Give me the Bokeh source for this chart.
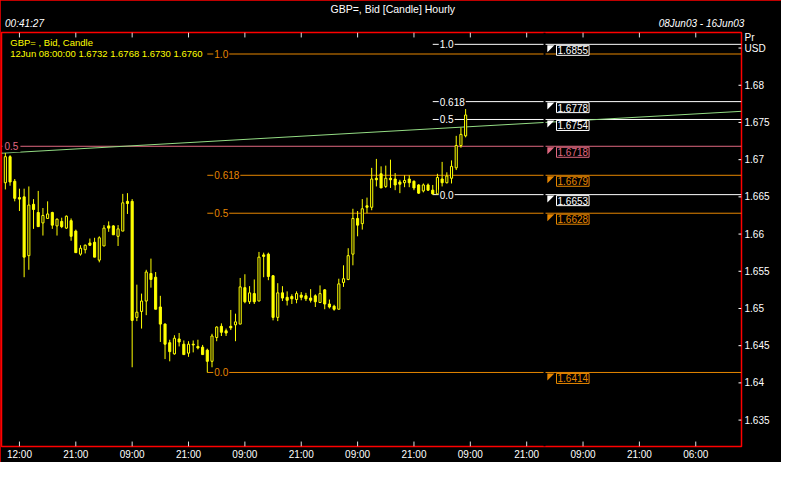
import numpy as np
from bokeh.plotting import figure
from bokeh.models import ColumnDataSource, FixedTicker, LinearAxis, Label, Range1d
from bokeh.embed import file_html
from bokeh.resources import INLINE

# ---------------- data (hourly GBP= bid candles, bar index 0..98) ----------------
opens = [1.6669, 1.6704, 1.6671, 1.6649, 1.6650, 1.6571, 1.6640, 1.6629, 1.6615, 1.6621,
         1.6629, 1.6611, 1.6617, 1.6608, 1.6618, 1.6604, 1.6573, 1.6579, 1.6588, 1.6589,
         1.6565, 1.6584, 1.6611, 1.6611, 1.6597, 1.6604, 1.6644, 1.6644, 1.6488, 1.6496,
         1.6510, 1.6547, 1.6542, 1.6502, 1.6479, 1.6454, 1.6439, 1.6459, 1.6452, 1.6440,
         1.6452, 1.6449, 1.6448, 1.6444, 1.6429, 1.6461, 1.6476, 1.6470, 1.6476, 1.6478,
         1.6479, 1.6528, 1.6509, 1.6520, 1.6510, 1.6572, 1.6573, 1.6544, 1.6488, 1.6521,
         1.6515, 1.6516, 1.6512, 1.6518, 1.6517, 1.6514, 1.6517, 1.6508, 1.6525, 1.6506,
         1.6503, 1.6499, 1.6535, 1.6539, 1.6573, 1.6621, 1.6614, 1.6638, 1.6636, 1.6675,
         1.6681, 1.6664, 1.6675, 1.6674, 1.6670, 1.6669, 1.6674, 1.6671, 1.6666, 1.6658,
         1.6666, 1.6659, 1.6654, 1.6674, 1.6669, 1.6675, 1.6689, 1.6719, 1.6732]
highs = [1.6709, 1.6706, 1.6674, 1.6661, 1.6661, 1.6664, 1.6647, 1.6658, 1.6635, 1.6644,
         1.6630, 1.6621, 1.6622, 1.6625, 1.6621, 1.6606, 1.6585, 1.6586, 1.6594, 1.6595,
         1.6597, 1.6612, 1.6617, 1.6612, 1.6612, 1.6654, 1.6655, 1.6647, 1.6532, 1.6520,
         1.6552, 1.6567, 1.6549, 1.6517, 1.6480, 1.6458, 1.6464, 1.6467, 1.6457, 1.6456,
         1.6457, 1.6458, 1.6451, 1.6446, 1.6466, 1.6476, 1.6480, 1.6473, 1.6498, 1.6493,
         1.6541, 1.6546, 1.6530, 1.6539, 1.6576, 1.6575, 1.6575, 1.6545, 1.6534, 1.6530,
         1.6523, 1.6519, 1.6523, 1.6522, 1.6521, 1.6526, 1.6519, 1.6531, 1.6526, 1.6512,
         1.6505, 1.6540, 1.6558, 1.6581, 1.6634, 1.6631, 1.6647, 1.6649, 1.6689, 1.6701,
         1.6691, 1.6692, 1.6700, 1.6682, 1.6673, 1.6679, 1.6679, 1.6672, 1.6667, 1.6668,
         1.6668, 1.6666, 1.6681, 1.6697, 1.6683, 1.6699, 1.6732, 1.6743, 1.6768]
lows = [1.6660, 1.6665, 1.6644, 1.6631, 1.6542, 1.6552, 1.6607, 1.6610, 1.6598, 1.6621,
        1.6607, 1.6598, 1.6608, 1.6607, 1.6591, 1.6575, 1.6571, 1.6574, 1.6584, 1.6569,
        1.6562, 1.6584, 1.6603, 1.6599, 1.6584, 1.6604, 1.6627, 1.6421, 1.6483, 1.6473,
        1.6491, 1.6528, 1.6499, 1.6455, 1.6432, 1.6429, 1.6438, 1.6449, 1.6438, 1.6435,
        1.6441, 1.6445, 1.6438, 1.6414, 1.6421, 1.6456, 1.6463, 1.6463, 1.6471, 1.6456,
        1.6479, 1.6507, 1.6506, 1.6506, 1.6510, 1.6542, 1.6538, 1.6484, 1.6483, 1.6510,
        1.6504, 1.6506, 1.6507, 1.6511, 1.6510, 1.6508, 1.6502, 1.6508, 1.6499, 1.6500,
        1.6497, 1.6499, 1.6529, 1.6538, 1.6558, 1.6597, 1.6606, 1.6628, 1.6632, 1.6664,
        1.6662, 1.6662, 1.6662, 1.6659, 1.6655, 1.6663, 1.6663, 1.6659, 1.6654, 1.6656,
        1.6658, 1.6653, 1.6653, 1.6664, 1.6668, 1.6668, 1.6686, 1.6716, 1.6730]
closes = [1.6704, 1.6670, 1.6648, 1.6647, 1.6569, 1.6639, 1.6633, 1.6610, 1.6625, 1.6627,
          1.6612, 1.6620, 1.6610, 1.6624, 1.6597, 1.6575, 1.6581, 1.6585, 1.6585, 1.6569,
          1.6595, 1.6608, 1.6608, 1.6599, 1.6607, 1.6642, 1.6641, 1.6484, 1.6495, 1.6510,
          1.6549, 1.6539, 1.6499, 1.6479, 1.6452, 1.6442, 1.6460, 1.6455, 1.6438, 1.6452,
          1.6451, 1.6447, 1.6438, 1.6429, 1.6463, 1.6475, 1.6468, 1.6467, 1.6474, 1.6482,
          1.6529, 1.6509, 1.6521, 1.6509, 1.6569, 1.6570, 1.6543, 1.6488, 1.6521, 1.6514,
          1.6511, 1.6513, 1.6520, 1.6515, 1.6513, 1.6511, 1.6509, 1.6520, 1.6506, 1.6502,
          1.6499, 1.6533, 1.6540, 1.6571, 1.6621, 1.6612, 1.6634, 1.6636, 1.6674, 1.6673,
          1.6662, 1.6675, 1.6673, 1.6666, 1.6667, 1.6672, 1.6669, 1.6662, 1.6655, 1.6666,
          1.6659, 1.6654, 1.6676, 1.6669, 1.6678, 1.6691, 1.6719, 1.6734, 1.6760]
bar_idx = list(range(len(opens)))

# x axis: one bar per hour, tick every 12 bars
x_tick_idx = [3, 15, 27, 39, 51, 63, 75, 87, 99, 111, 123, 135, 147]
x_tick_labels = ["12:00", "21:00", "09:00", "21:00", "09:00", "21:00", "09:00",
                 "21:00", "09:00", "21:00", "09:00", "21:00", "06:00"]
# y axis: price ticks; the 1.685 tick carries the currency unit
y_tick_vals = [1.635, 1.64, 1.645, 1.65, 1.655, 1.66, 1.665, 1.67, 1.675, 1.68, 1.685]
y_tick_labels = ["1.635", "1.64", "1.645", "1.65", "1.655", "1.66", "1.665", "1.67",
                 "1.675", "1.68", "USD"]
unit_label = "Pr"
unit_label_y = 1.6864

# Fibonacci tools
fib_levels = ["1.0", "0.618", "0.5", "0.0"]
orange_prices = [1.6842, 1.6679, 1.6628, 1.6414]
orange_anchor = 43
white_prices = [1.6855, 1.6778, 1.6754, 1.6653]
white_anchor = 91
pink_level = "0.5"
pink_price = 1.6718
# trend line anchors (bar, price)
trend_idx = [0, 98]
trend_price = [1.6709, 1.6744]
# price tags at the right (the orange 1.0 tag is hidden behind the 1.6855 tag)
tag_prices = [1.6855, 1.6778, 1.6754, 1.6718, 1.6679, 1.6653, 1.6628, 1.6414]

title_text = "GBP=, Bid [Candle] Hourly"
clock_text = "00:41:27"
period_text = "08Jun03 - 16Jun03"
legend1 = "GBP= , Bid, Candle"
legend2 = "12Jun 08:00:00 1.6732 1.6768 1.6730 1.6760"

# ---------------- styling ----------------
YEL = "#ffff00"
ORG = "#e68600"
PNK = "#e06880"
GRN = "#94dc84"
WHT = "#ffffff"
RED = "#ff0000"
FONT = "Liberation Sans"
FS = "10px"

W, H = 781, 462
B_LEFT, B_RIGHT, B_TOP, B_BOTTOM = 1, 40, 30, 14
FRAME_W = W - B_LEFT - B_RIGHT
FRAME_H = H - B_TOP - B_BOTTOM
x_lo, x_hi = -0.82, 156.74
y_lo, y_hi = 1.63145, 1.68709
px_x = (x_hi - x_lo) / FRAME_W
px_y = (y_hi - y_lo) / FRAME_H

p = figure(width=W, height=H, output_backend="svg", toolbar_location=None,
           x_range=Range1d(x_lo, x_hi), y_range=Range1d(y_lo, y_hi),
           y_axis_location="right",
           min_border_left=B_LEFT, min_border_right=B_RIGHT,
           min_border_top=B_TOP, min_border_bottom=B_BOTTOM)
p.background_fill_color = "black"
p.border_fill_color = "black"
p.outline_line_color = RED
p.outline_line_width = 1.5
p.grid.visible = False
p.styles = {"outline": "1.5px solid #ff0000", "outline-offset": "-1.5px"}

# chart title (outermost row of the header)
p.title.text = title_text
p.title.align = "left"
p.title.offset = 329
p.title.text_color = WHT
p.title.text_font = FONT
p.title.text_font_size = "10.5px"
p.title.text_font_style = "normal"
p.title.standoff = 0

# x axis (below): labels only, tick marks drawn as segments inside the frame
xa = p.xaxis[0]
xa.ticker = FixedTicker(ticks=x_tick_idx)
xa.major_label_overrides = {t: s for t, s in zip(x_tick_idx, x_tick_labels)}
xa.axis_line_color = None
xa.major_tick_line_color = None
xa.major_tick_in = 0
xa.major_tick_out = 0
xa.minor_tick_line_color = None
xa.major_label_text_color = WHT
xa.major_label_text_font = FONT
xa.major_label_text_font_size = FS
xa.major_label_standoff = 2

# header (above): clock and period as italic labels
hdr_left_x = x_lo + 23 * px_x
hdr_right_x = x_lo + 700 * px_x
ta = LinearAxis(ticker=FixedTicker(ticks=[hdr_left_x, hdr_right_x]),
                major_label_overrides={hdr_left_x: clock_text, hdr_right_x: period_text},
                axis_line_color=None, major_tick_line_color=None,
                major_tick_in=0, major_tick_out=0, minor_tick_line_color=None,
                major_label_text_color=WHT, major_label_text_font=FONT,
                major_label_text_font_size=FS, major_label_text_font_style="italic",
                major_label_standoff=4)
p.add_layout(ta, "above")

# y axis (right)
ya = p.yaxis[0]
ya.ticker = FixedTicker(ticks=y_tick_vals + [unit_label_y])
overrides = {v: s for v, s in zip(y_tick_vals, y_tick_labels)}
overrides[unit_label_y] = unit_label
ya.major_label_overrides = overrides
ya.axis_line_color = None
ya.major_tick_line_color = None
ya.major_tick_in = 0
ya.major_tick_out = 0
ya.minor_tick_line_color = None
ya.major_label_text_color = WHT
ya.major_label_text_font = FONT
ya.major_label_text_font_size = FS
ya.major_label_standoff = 3

# tick marks inside the frame
n_xt = len(x_tick_idx)
p.segment(x0=x_tick_idx, y0=[y_hi] * n_xt, x1=x_tick_idx, y1=[y_hi - 5 * px_y] * n_xt,
          line_color="#e0e0e0", line_width=1)
p.segment(x0=x_tick_idx, y0=[y_lo] * n_xt, x1=x_tick_idx, y1=[y_lo + 5 * px_y] * n_xt,
          line_color="#e0e0e0", line_width=1)
n_yt = len(y_tick_vals)
p.segment(x0=[x_hi - 3 * px_x] * n_yt, y0=y_tick_vals, x1=[x_hi] * n_yt, y1=y_tick_vals,
          line_color=WHT, line_width=1)

# ---------------- lines ----------------
p.segment(x0=[orange_anchor] * len(orange_prices), y0=orange_prices,
          x1=[x_hi] * len(orange_prices), y1=orange_prices, line_color=ORG, line_width=1)
p.segment(x0=[white_anchor] * len(white_prices), y0=white_prices,
          x1=[x_hi] * len(white_prices), y1=white_prices, line_color=WHT, line_width=1)
p.segment(x0=[x_lo], y0=[pink_price], x1=[x_hi], y1=[pink_price], line_color=PNK, line_width=1)

slope = (trend_price[1] - trend_price[0]) / (trend_idx[1] - trend_idx[0])
tx = [x_lo, x_hi]
ty = [trend_price[0] + slope * (x - trend_idx[0]) for x in tx]
p.line(tx, ty, line_color=GRN, line_width=1)

# small break in the level lines just before the price tags
gap_x = 114.8
p.segment(x0=[gap_x], y0=[y_lo], x1=[gap_x], y1=[y_hi], line_color="black", line_width=2)

# ---------------- candles ----------------
o = np.array(opens); h = np.array(highs); l = np.array(lows); c = np.array(closes)
idx = np.array(bar_idx)
up = c >= o
src_all = ColumnDataSource(dict(i=idx, h=h, l=l))
src_up = ColumnDataSource(dict(i=idx[up], top=c[up], bot=o[up]))
src_dn = ColumnDataSource(dict(i=idx[~up], top=o[~up], bot=c[~up]))
p.segment(x0="i", y0="l", x1="i", y1="h", source=src_all, line_color=YEL, line_width=1)
p.vbar(x="i", width=0.45, top="top", bottom="bot", source=src_dn,
       fill_color=YEL, line_color=YEL, line_width=1)
p.vbar(x="i", width=0.45, top="top", bottom="bot", source=src_up,
       fill_color="black", line_color=YEL, line_width=1)

# ---------------- fib labels ----------------
for lvl, pr in zip(fib_levels, orange_prices):
    p.add_layout(Label(x=orange_anchor, y=pr, x_offset=6, text=lvl, text_baseline="middle",
                       text_color=ORG, text_font=FONT, text_font_size=FS,
                       background_fill_color="black", padding=1))
for lvl, pr in zip(fib_levels, white_prices):
    p.add_layout(Label(x=white_anchor, y=pr, x_offset=6, text=lvl, text_baseline="middle",
                       text_color=WHT, text_font=FONT, text_font_size=FS,
                       background_fill_color="black", padding=1))
p.add_layout(Label(x=1, y=pink_price, x_units="screen", text=pink_level, text_baseline="middle",
                   text_color=PNK, text_font=FONT, text_font_size=FS,
                   background_fill_color="black", padding=2))

# ---------------- price tags ----------------
tag_colors = []
for pr in tag_prices:
    if pr in white_prices:
        tag_colors.append(WHT)
    elif pr == pink_price:
        tag_colors.append(PNK)
    else:
        tag_colors.append(ORG)
tri_x0, tri_x1, box_x = 115.4, 116.9, 117.35
txs = [[tri_x0, tri_x1, tri_x0] for _ in tag_prices]
tys = [[pr - 1 * px_y, pr - 1 * px_y, pr - 8 * px_y] for pr in tag_prices]
p.patches(txs, tys, fill_color=tag_colors, line_color=None)
for pr, col in zip(tag_prices, tag_colors):
    p.add_layout(Label(x=box_x, y=pr, y_offset=-1, text=f"{pr:.4f}", text_baseline="top",
                       text_color=col, text_font=FONT, text_font_size=FS,
                       background_fill_color="black", border_line_color=col,
                       border_line_width=1, padding=1))

# ---------------- legend texts (screen units, relative to frame) ----------------
for ty_, txt in [(FRAME_H - 13.5, legend1), (FRAME_H - 25.0, legend2)]:
    p.add_layout(Label(x=8.8, y=ty_, x_units="screen", y_units="screen", text=txt,
                       text_align="left", text_baseline="middle", text_color=YEL,
                       text_font=FONT, text_font_size="9.5px"))

open("out.html", "w").write(file_html(p, INLINE))
